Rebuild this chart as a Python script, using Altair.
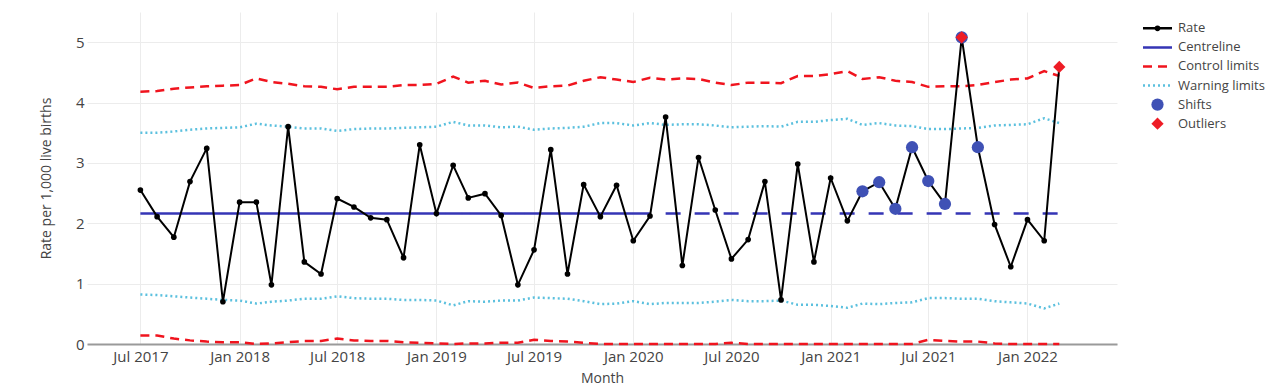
import altair as alt
import pandas as pd

# ---------------- data ----------------
MONTHS = [
    "2017-07", "2017-08", "2017-09", "2017-10", "2017-11", "2017-12",
    "2018-01", "2018-02", "2018-03", "2018-04", "2018-05", "2018-06",
    "2018-07", "2018-08", "2018-09", "2018-10", "2018-11", "2018-12",
    "2019-01", "2019-02", "2019-03", "2019-04", "2019-05", "2019-06",
    "2019-07", "2019-08", "2019-09", "2019-10", "2019-11", "2019-12",
    "2020-01", "2020-02", "2020-03", "2020-04", "2020-05", "2020-06",
    "2020-07", "2020-08", "2020-09", "2020-10", "2020-11", "2020-12",
    "2021-01", "2021-02", "2021-03", "2021-04", "2021-05", "2021-06",
    "2021-07", "2021-08", "2021-09", "2021-10", "2021-11", "2021-12",
    "2022-01", "2022-02", "2022-03",
]
RATE = [
    2.55, 2.11, 1.77, 2.69, 3.24, 0.70,
    2.35, 2.35, 0.98, 3.60, 1.36, 1.16,
    2.41, 2.27, 2.09, 2.06, 1.43, 3.30,
    2.16, 2.96, 2.42, 2.49, 2.13, 0.98,
    1.56, 3.22, 1.16, 2.64, 2.11, 2.63,
    1.71, 2.12, 3.76, 1.30, 3.09, 2.22,
    1.41, 1.73, 2.69, 0.73, 2.98, 1.36,
    2.75, 2.04, 2.53, 2.68, 2.24, 3.26,
    2.70, 2.32, 5.08, 3.26, 1.98, 1.28,
    2.06, 1.71, 4.59,
]
UPPER_CONTROL = [
    4.18, 4.19, 4.23, 4.25, 4.27, 4.28,
    4.29, 4.40, 4.34, 4.31, 4.27, 4.26,
    4.22, 4.26, 4.26, 4.26, 4.29, 4.29,
    4.31, 4.43, 4.33, 4.36, 4.30, 4.33,
    4.24, 4.27, 4.28, 4.36, 4.42, 4.38,
    4.34, 4.41, 4.38, 4.40, 4.39, 4.33,
    4.29, 4.33, 4.33, 4.32, 4.44, 4.44,
    4.47, 4.52, 4.39, 4.42, 4.36, 4.34,
    4.26, 4.27, 4.27, 4.29, 4.34, 4.38,
    4.40, 4.52, 4.44,
]
UPPER_WARNING = [
    3.50, 3.50, 3.52, 3.55, 3.57, 3.58,
    3.59, 3.65, 3.62, 3.60, 3.57, 3.57,
    3.53, 3.56, 3.57, 3.57, 3.58, 3.59,
    3.60, 3.68, 3.62, 3.62, 3.59, 3.60,
    3.55, 3.57, 3.58, 3.60, 3.66, 3.66,
    3.62, 3.66, 3.63, 3.64, 3.64, 3.62,
    3.59, 3.60, 3.61, 3.60, 3.68, 3.68,
    3.71, 3.73, 3.63, 3.66, 3.62, 3.61,
    3.56, 3.56, 3.57, 3.58, 3.62, 3.63,
    3.64, 3.74, 3.66,
]
LOWER_WARNING = [
    0.82, 0.81, 0.79, 0.77, 0.75, 0.73,
    0.72, 0.67, 0.70, 0.72, 0.75, 0.75,
    0.79, 0.76, 0.75, 0.75, 0.73, 0.73,
    0.72, 0.64, 0.71, 0.70, 0.72, 0.72,
    0.77, 0.76, 0.75, 0.71, 0.66, 0.67,
    0.71, 0.66, 0.68, 0.68, 0.68, 0.70,
    0.73, 0.71, 0.71, 0.72, 0.65, 0.65,
    0.63, 0.60, 0.67, 0.66, 0.68, 0.69,
    0.76, 0.76, 0.75, 0.75, 0.71, 0.69,
    0.67, 0.59, 0.67,
]
LOWER_CONTROL = [
    0.14, 0.14, 0.09, 0.06, 0.04, 0.03,
    0.03, 0.00, 0.01, 0.03, 0.05, 0.05,
    0.09, 0.06, 0.05, 0.05, 0.03, 0.02,
    0.01, 0.00, 0.01, 0.01, 0.02, 0.02,
    0.07, 0.05, 0.04, 0.02, 0.00, 0.00,
    0.00, 0.00, 0.00, 0.00, 0.00, 0.00,
    0.02, 0.00, 0.00, 0.00, 0.00, 0.00,
    0.00, 0.00, 0.00, 0.00, 0.00, 0.00,
    0.07, 0.05, 0.04, 0.04, 0.01, 0.00,
    0.00, 0.00, 0.00,
]
CENTRELINE = 2.16
CENTRE_PHASES = ["baseline", "projected"]
CENTRE_START = ["2017-07", "2020-03"]
CENTRE_END = ["2020-02", "2022-03"]
SHIFT_MONTHS = ["2021-03", "2021-04", "2021-05", "2021-06",
                "2021-07", "2021-08", "2021-09", "2021-10"]
OUTLIER_MONTHS = ["2021-09", "2022-03"]
X_TICKS = ["2017-07", "2018-01", "2018-07", "2019-01", "2019-07",
           "2020-01", "2020-07", "2021-01", "2021-07", "2022-01"]
X_DOMAIN = ["2017-03-24", "2022-06-16"]
Y_TICKS = [0, 1, 2, 3, 4, 5]
Y_DOMAIN = [0, 5.5]
LEGEND_LABELS = ["Rate", "Centreline", "Control limits", "Warning limits",
                 "Shifts", "Outliers"]

# ---------------- styling ----------------
FONT = "Open Sans"
TEXT = "#444444"
CL_COLOR = "#3535b5"
CTRL_COLOR = "#f0141e"
WARN_COLOR = "#5bc0de"
SHIFT_COLOR = "#3f51b5"
OUT_COLOR = "#ee1c25"
W, H = 1030, 332


def ms(s):
    return int(pd.Timestamp(s, tz="UTC").value // 10**6)


def day(m):
    return m + "-01"


df = pd.DataFrame({
    "month": [day(m) for m in MONTHS],
    "rate": RATE,
    "ucl": UPPER_CONTROL,
    "uwl": UPPER_WARNING,
    "lwl": LOWER_WARNING,
    "lcl": LOWER_CONTROL,
})
limits = df.melt(id_vars=["month"], value_vars=["ucl", "lcl", "uwl", "lwl"],
                 var_name="bound", value_name="value")
centre = pd.DataFrame({
    "phase": CENTRE_PHASES,
    "start": [day(m) for m in CENTRE_START],
    "end": [day(m) for m in CENTRE_END],
    "value": [CENTRELINE, CENTRELINE],
})
shifts = df[df["month"].isin([day(m) for m in SHIFT_MONTHS])]
outliers = df[df["month"].isin([day(m) for m in OUTLIER_MONTHS])]

x_axis = alt.Axis(values=[ms(day(m)) for m in X_TICKS],
                  labelExpr="utcFormat(datum.value, '%b %Y')",
                  title="Month", grid=True, ticks=False,
                  labelPadding=5, titlePadding=7, domainColor="#9a9a9a",
                  domainWidth=2, labelFontSize=15, labelColor=TEXT)
y_axis = alt.Axis(values=Y_TICKS, title="Rate per 1,000 live births",
                  grid=True, ticks=False, domain=False, labelPadding=3,
                  titlePadding=22, labelFontSize=15, labelColor=TEXT)
x_scale = alt.Scale(type="utc", domain=[ms(d) for d in X_DOMAIN])
y_scale = alt.Scale(domain=Y_DOMAIN, nice=False, zero=False)


def X(field):
    return alt.X(field, type="temporal", scale=x_scale, axis=x_axis)


def Y(field):
    return alt.Y(field, type="quantitative", scale=y_scale, axis=y_axis)


warn = (alt.Chart(limits)
        .transform_filter(alt.FieldOneOfPredicate(field="bound", oneOf=["uwl", "lwl"]))
        .mark_line(color=WARN_COLOR, strokeWidth=2.5, strokeDash=[2, 3])
        .encode(x=X("month"), y=Y("value"), detail="bound:N"))
ctrl = (alt.Chart(limits)
        .transform_filter(alt.FieldOneOfPredicate(field="bound", oneOf=["ucl", "lcl"]))
        .mark_line(color=CTRL_COLOR, strokeWidth=2.5, strokeDash=[9, 6])
        .encode(x=X("month"), y=Y("value"), detail="bound:N"))
cl = (alt.Chart(centre)
      .mark_rule(color=CL_COLOR, strokeWidth=2.5)
      .encode(x=X("start"), x2="end:T", y=Y("value"),
              strokeDash=alt.StrokeDash("phase:N", scale=alt.Scale(
                  domain=CENTRE_PHASES, range=[[1, 0], [15, 14]]), legend=None)))
rate = (alt.Chart(df)
        .mark_line(color="#000000", strokeWidth=2,
                   point=alt.OverlayMarkDef(filled=True, size=32, color="#000000"))
        .encode(x=X("month"), y=Y("rate")))
shift_pts = (alt.Chart(shifts)
             .mark_point(filled=True, size=150, color=SHIFT_COLOR, opacity=1)
             .encode(x=X("month"), y=Y("rate")))
out_pts = (alt.Chart(outliers)
           .mark_point(filled=True, size=150, shape="diamond", color=OUT_COLOR, opacity=1)
           .encode(x=X("month"), y=Y("rate")))

main = alt.layer(warn, ctrl, cl, rate, shift_pts, out_pts)

# ---------------- legend (drawn at the right of the plot) ----------------
leg = pd.DataFrame({"label": LEGEND_LABELS})
leg_y = alt.Y("label:N", sort=LEGEND_LABELS, axis=None,
              scale=alt.Scale(type="point", range=[16.3, 111.7], padding=0))
leg_color = alt.Color("label:N", legend=None, scale=alt.Scale(
    domain=LEGEND_LABELS,
    range=["#000000", CL_COLOR, CTRL_COLOR, WARN_COLOR, SHIFT_COLOR, OUT_COLOR]))
leg_dash = alt.StrokeDash("label:N", legend=None, scale=alt.Scale(
    domain=LEGEND_LABELS,
    range=[[1, 0], [1, 0], [9, 6], [2, 3], [1, 0], [1, 0]]))
SYM_X0, SYM_X1, SYM_XC, TXT_X = 1056, 1085, 1070.5, 1091

leg_rules = (alt.Chart(leg)
             .transform_filter(alt.FieldOneOfPredicate(field="label", oneOf=LEGEND_LABELS[:4]))
             .mark_rule(strokeWidth=2.5)
             .encode(x=alt.value(SYM_X0), x2=alt.value(SYM_X1), y=leg_y,
                     color=leg_color, strokeDash=leg_dash))
leg_dot = (alt.Chart(leg)
           .transform_filter(alt.FieldEqualPredicate(field="label", equal="Rate"))
           .mark_point(filled=True, size=32, opacity=1)
           .encode(x=alt.value(SYM_XC), y=leg_y, color=leg_color))
leg_sym = (alt.Chart(leg)
           .transform_filter(alt.FieldOneOfPredicate(field="label", oneOf=["Shifts", "Outliers"]))
           .mark_point(filled=True, size=150, opacity=1)
           .encode(x=alt.value(SYM_XC), y=leg_y, color=leg_color,
                   shape=alt.Shape("label:N", legend=None, scale=alt.Scale(
                       domain=["Shifts", "Outliers"], range=["circle", "diamond"]))))
leg_txt = (alt.Chart(leg)
           .mark_text(align="left", baseline="middle", fontSize=13, font=FONT, color=TEXT)
           .encode(x=alt.value(TXT_X), y=leg_y, text="label:N"))
legend = alt.layer(leg_rules, leg_dot, leg_sym, leg_txt)

chart = (alt.layer(main, legend)
         .resolve_scale(y="independent", color="independent",
                        strokeDash="independent", shape="independent")
         .properties(width=W, height=H,
                     autosize=alt.AutoSizeParams(type="none"),
                     padding={"left": 79, "top": 4, "right": 163, "bottom": 45},
                     background="white")
         .configure_view(stroke=None)
         .configure_axis(labelFont=FONT, titleFont=FONT, titleFontSize=14,
                         titleFontWeight="normal", titleColor=TEXT,
                         gridColor="#ececec", gridWidth=1))

chart.save("out.html", embed_options={"renderer": "svg", "actions": False})
